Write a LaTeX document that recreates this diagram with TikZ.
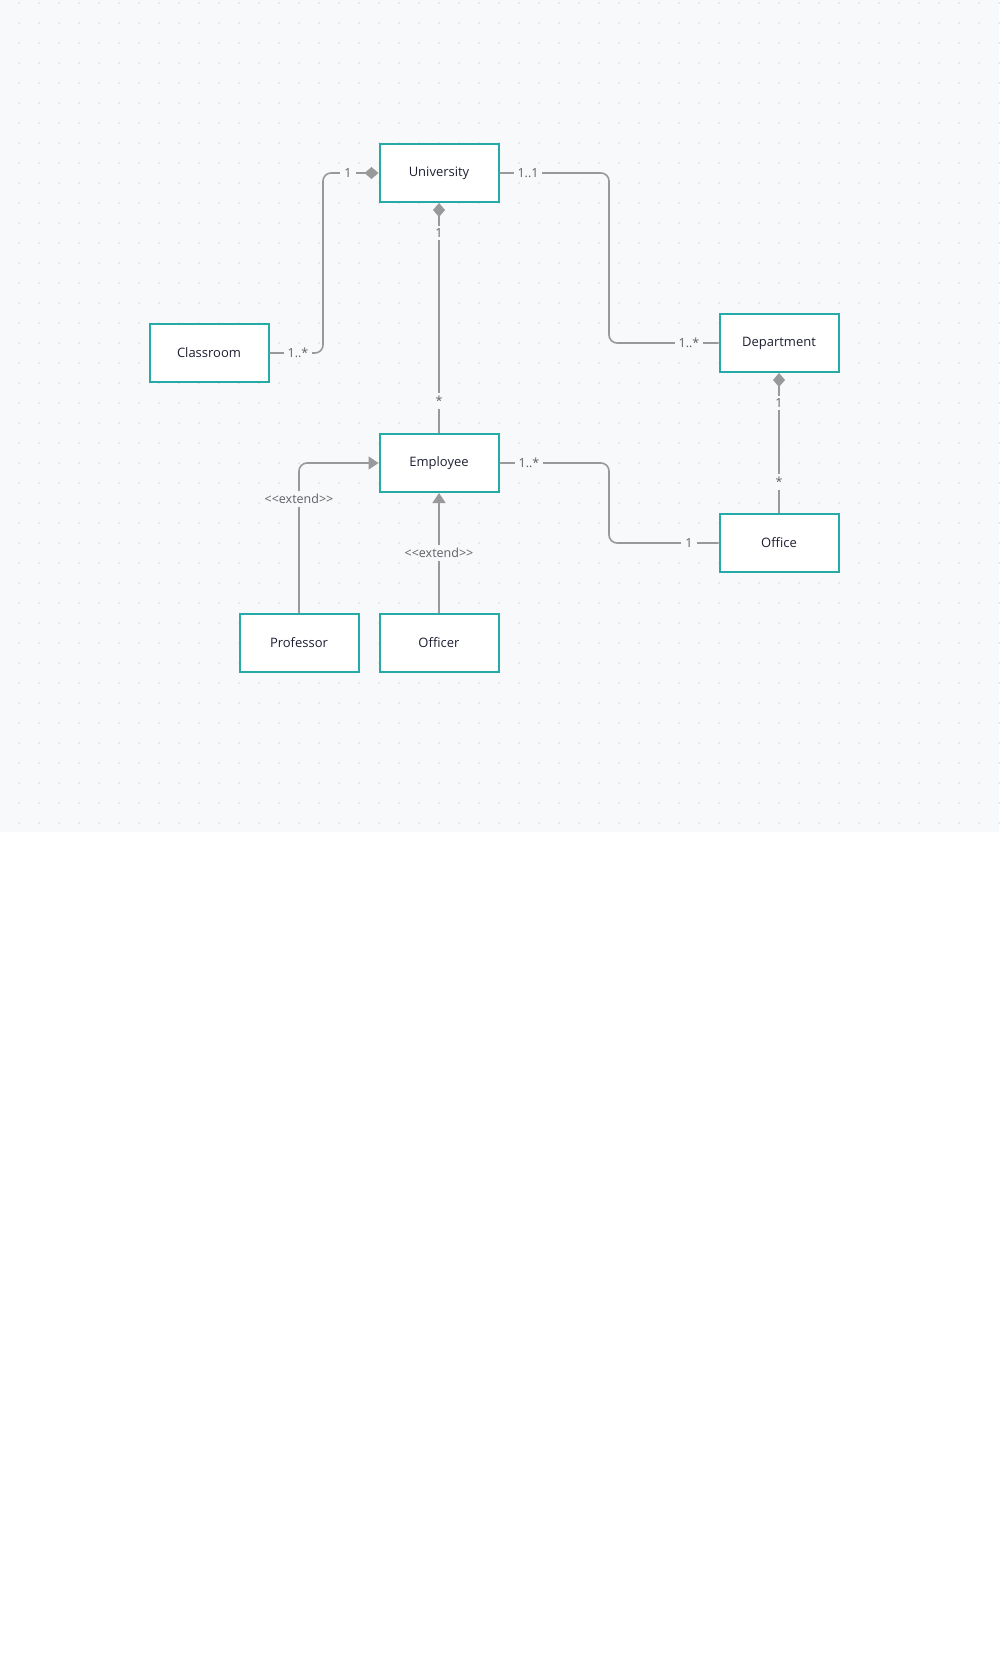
\documentclass[tikz,border=0pt]{standalone}
\usepackage{fontspec}
\setmainfont[Ligatures=NoCommon]{Open Sans}
\usetikzlibrary{arrows.meta}
\definecolor{bg}{RGB}{248,249,251}
\definecolor{dotc}{RGB}{222,224,229}
\definecolor{teal}{RGB}{38,170,168}
\definecolor{linec}{RGB}{153,153,153}
\definecolor{txt}{RGB}{30,32,50}
\definecolor{labc}{RGB}{95,95,100}
\tikzset{
  cls/.style={draw=teal, line width=2pt, fill=white, minimum width=119pt, minimum height=58pt, inner sep=0pt, text=txt, font=\fontsize{13}{15}\selectfont},
  conn/.style={draw=linec, line width=1.6pt, rounded corners=8pt},
  lab/.style={fill=bg, text=labc, inner xsep=4pt, inner ysep=3pt, font=\fontsize{12.5}{14}\selectfont},
  dia/.style={{Diamond[length=14pt,width=12pt,fill=linec]}-},
  tri/.style={-{Triangle[length=10pt,width=13pt,fill=linec]}}
}
\newcommand{\ext}{<{}<extend>{}>}
\begin{document}
\begin{tikzpicture}[x=1pt,y=-1pt]
\useasboundingbox (0,0) rectangle (999,1668);
\fill[bg] (0,0) rectangle (999,832);
\foreach \i in {0,...,49} {
  \foreach \j in {0,...,41} {
    \fill[dotc] (19+20*\i,3+20*\j) circle (1pt);
  }
}
% classes
\node[cls] (uni) at (439,173) {University};
\node[cls] (room) at (209,353) {Classroom};
\node[cls] (dept) at (779,343) {Department};
\node[cls] (emp) at (439,463) {Employee};
\node[cls] (off) at (779,543) {Office};
\node[cls] (prof) at (299,643) {Professor};
\node[cls] (offr) at (439,643) {Officer};
% connectors
\draw[conn,dia] (uni.west) -- (323,173) -- (323,353) -- (room.east);
\draw[conn] (uni.east) -- (609,173) -- (609,343) -- (dept.west);
\draw[conn,dia] (uni.south) -- (emp.north);
\draw[conn,dia] (dept.south) -- (off.north);
\draw[conn] (emp.east) -- (609,463) -- (609,543) -- (off.west);
\draw[conn,tri] (prof.north) -- (299,463) -- (emp.west);
\draw[conn,tri] (offr.north) -- (emp.south);
% labels
\node[lab] (l1) at (348,173) {1};
\node[lab] (l2) at (298,353) {1..*};
\node[lab] (l3) at (528,173) {1..1};
\node[lab] (l4) at (689,343) {1..*};
\node[lab] (l5) at (439,233) {1};
\node[lab] (l6) at (439,401) {*};
\node[lab] (l7) at (779,403) {1};
\node[lab] (l8) at (779,482) {*};
\node[lab] (l9) at (529,463) {1..*};
\node[lab] (l10) at (689,543) {1};
\node[lab] (l11) at (299,499) {\ext};
\node[lab] (l12) at (439,553) {\ext};
\end{tikzpicture}
\end{document}
